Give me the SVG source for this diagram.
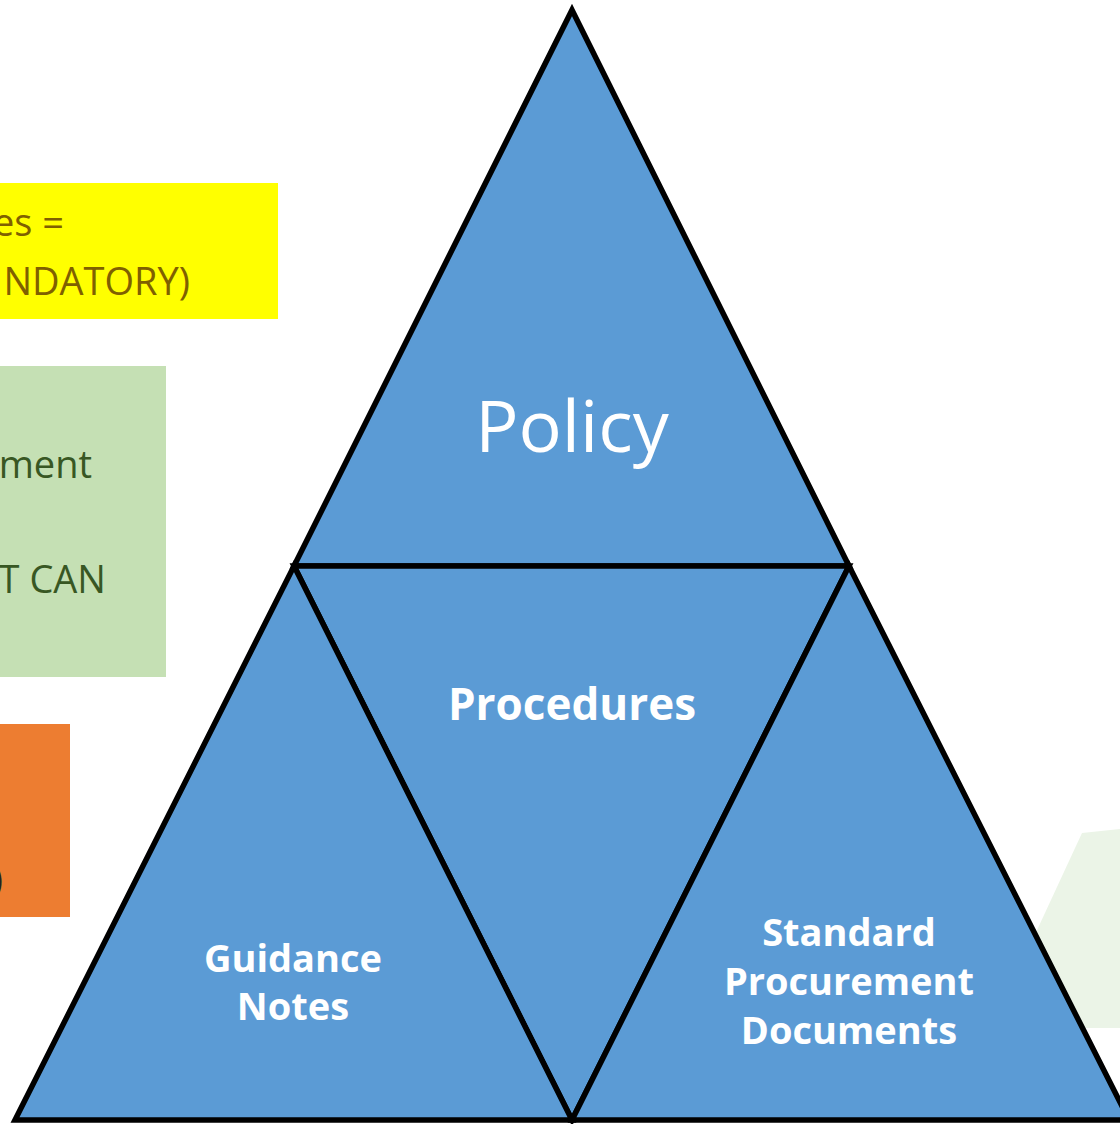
<svg xmlns="http://www.w3.org/2000/svg" width="1120" height="1124" viewBox="0 0 1120 1124">
<style>
.tri{fill:#5b9bd5;stroke:#000;stroke-width:5.5;stroke-linejoin:miter}
.w{fill:#fff;font-family:"Open Sans","Liberation Sans",sans-serif;text-anchor:middle}
.b{font-weight:bold;font-size:38px}
.side{font-family:"Open Sans","Liberation Sans",sans-serif;font-size:38px}
</style>
<rect width="1120" height="1124" fill="#fff"/>
<g id="yellow-box">
<rect x="-10" y="183" width="288" height="136" fill="#ffff00"/>
<text class="side" x="64" y="236" text-anchor="end" fill="#7f6000">es =</text>
<text class="side" x="190" y="295" text-anchor="end" fill="#7f6000">NDATORY)</text>
</g>
<g id="green-box">
<rect x="-10" y="366" width="176" height="311" fill="#c5e0b4"/>
<text class="side" x="92" y="478" text-anchor="end" fill="#385723">ment</text>
<text class="side" x="106" y="593" text-anchor="end" fill="#385723">T CAN</text>
</g>
<g id="orange-box">
<rect x="-10" y="724" width="80" height="193" fill="#ed7d31"/>
<text class="side" x="3" y="893" text-anchor="end" fill="#222">)</text>
</g>
<g id="light-shape">
<polygon points="1082,833 1120,829 1120,1028 1000,1028 1000,1010" fill="#ebf4e7"/>
</g>
<g id="policy">
<polygon class="tri" points="572,10 849,566 294,566"/>
<text class="w" x="572" y="452" font-size="72">Policy</text>
</g>
<g id="procedures">
<polygon class="tri" points="294,566 849,566 572,1120"/>
<text class="w b" x="572" y="720" style="font-size:44px">Procedures</text>
</g>
<g id="guidance">
<polygon class="tri" points="294,566 572,1120 15,1120"/>
<text class="w b" x="293" y="972">Guidance</text>
<text class="w b" x="293" y="1020">Notes</text>
</g>
<g id="standard">
<polygon class="tri" points="849,566 1129,1120 572,1120"/>
<text class="w b" x="849" y="946">Standard</text>
<text class="w b" x="849" y="995">Procurement</text>
<text class="w b" x="849" y="1044">Documents</text>
</g>
<g id="connectors"/>
</svg>
